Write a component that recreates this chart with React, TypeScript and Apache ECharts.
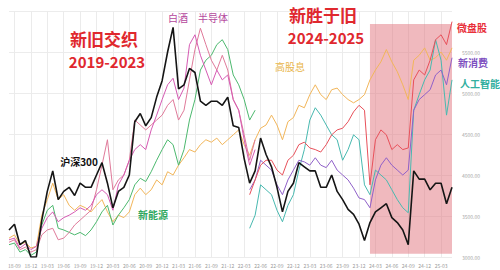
import React, { useEffect, useRef } from "react";
import * as echarts from "echarts";

const months = [
  "18-08","18-09","18-10","18-11","18-12",
  "19-01","19-02","19-03","19-04","19-05","19-06","19-07","19-08","19-09","19-10","19-11","19-12",
  "20-01","20-02","20-03","20-04","20-05","20-06","20-07","20-08","20-09","20-10","20-11","20-12",
  "21-01","21-02","21-03","21-04","21-05","21-06","21-07","21-08","21-09","21-10","21-11","21-12",
  "22-01","22-02","22-03","22-04","22-05","22-06","22-07","22-08","22-09","22-10","22-11","22-12",
  "23-01","23-02","23-03","23-04","23-05","23-06","23-07","23-08","23-09","23-10","23-11","23-12",
  "24-01","24-02","24-03","24-04","24-05","24-06","24-07","24-08","24-09","24-10","24-11","24-12",
  "25-01","25-02","25-03","25-04","25-05",
];

const hs300 = [
  3330, 3400, 3150, 3200, 3000, 3000, 3450, 3800, 4050, 3700,
  3800, 3850, 3750, 3900, 3850, 3850, 4000, 4150, 3900, 3600,
  3800, 3850, 4000, 4650, 4750, 4600, 4700, 4950, 5150, 5500,
  5800, 5050, 5100, 5300, 5250, 4900, 4850, 4900, 4900, 4850,
  4950, 4600, 4580, 4200, 3900, 4050, 4450, 4250, 4100, 3850,
  3550, 3800, 3900, 4150, 4100, 4050, 4050, 3850, 3850, 4000,
  3800, 3700, 3580, 3520, 3400, 3200, 3420, 3550, 3600, 3650,
  3480, 3420, 3330, 3150, 4050, 3950, 3950, 3820, 3900, 3900,
  3650, 3850,
];

const gaoGuXi = [
  3230, 3270, 3150, 3180, 3110, 3130, 3510, 3700, 3900, 3700,
  3760, 3630, 3570, 3630, 3600, 3550, 3630, 3700, 3550, 3430,
  3510, 3480, 3550, 3760, 3840, 3760, 3820, 3940, 3880, 4040,
  4000, 4120, 4210, 4310, 4280, 4370, 4430, 4400, 4450, 4370,
  4430, 4490, 4550, 4370, 4240, 4430, 4570, 4610, 4730, 4610,
  4430, 4650, 4700, 4850, 4820, 4980, 5100, 4980, 4920, 5040,
  5060, 4980, 4920, 4880, 4920, 4980, 5160, 5280, 5380, 5530,
  5380, 5260, 5100, 4920, 5400, 5460, 5550, 5400, 5430, 5500,
  5400, 5550,
];

const xinNengYuan = [
  3150, 3170, 3060, 3090, 3020, 3060, 3390, 3570, 3630, 3350,
  3330, 3300, 3270, 3300, 3260, 3330, 3430, 3550, 3630, 3390,
  3510, 3600, 3700, 3880, 3960, 3920, 4040, 4180, 4310, 4430,
  4370, 4120, 4310, 4670, 4920, 5280, 5400, 5460, 5590, 5650,
  5530, 5220, 5100, 4920, 4670, 4790,
];

const banDaoTi = [
  3180, 3210, 3090, 3120, 3060, 3090, 3270, 3330, 3350, 3210,
  3230, 3300, 3390, 3450, 3510, 3570, 3820, 4120, 4430, 3820,
  3940, 4000, 4180, 4670, 4610, 4550, 4610, 4670, 4730, 4850,
  4920, 4670, 4790, 5160, 5530, 5790, 5590, 5400, 5280, 5460,
  5280, 4920, 4790, 4490, 4180, 4430,
];

const baiJiu = [
  3210, 3230, 3110, 3160, 3090, 3130, 3350, 3480, 3550, 3430,
  3480, 3510, 3550, 3600, 3570, 3630, 3760, 3820, 3760, 3570,
  3880, 4000, 4180, 4310, 4370, 4310, 4550, 4730, 4920, 5100,
  5180, 4920, 5060, 5590, 5710, 5460, 5280, 5100, 5280, 5160,
  5220, 4920, 4790, 4430, 4120, 4310,
];

// new themes start at 22-04 (index 44)
const newStart = 44;
const renGongZhiNeng = [
  3350, 3510, 3880, 3820, 3760, 3570, 3430, 3630, 3760, 4060,
  4310, 4670, 4820, 4730, 4610, 4490, 4430, 4180, 4310, 4490,
  4430, 3880, 3760, 4060, 4000, 3940, 3820, 3700, 3600, 3540,
  4790, 4980, 5160, 5280, 5650, 5400, 4730, 5160,
];
const xinXiaoFei = [
  3820, 3940, 4180, 4120, 4060, 3880, 3760, 3940, 4060, 4180,
  4160, 4120, 4210, 4120, 4090, 4180, 4060, 4000, 3940, 3840,
  3720, 3700, 3600, 3940, 4120, 4210, 4120, 4060, 4000, 4060,
  4790, 4920, 4980, 5040, 5220, 5280, 5100, 5430,
];
const weiPanGu = [
  3760, 3940, 4120, 4180, 4180, 4060, 4000, 4180, 4240, 4370,
  4400, 4330, 4310, 4280, 4370, 4490, 4550, 4570, 4650, 4770,
  4850, 4790, 3880, 4430, 4550, 4490, 4310, 4370, 4310, 4330,
  5160, 5280, 5220, 5400, 5650, 5710, 5590, 5870,
];

const shadeStart = "24-02";
const shadeEnd = "25-05";
const shadeTop = 5840;
const shadeBottom = 3040;

const pad = (arr: number[]) => [...new Array(newStart).fill(null), ...arr];

const isQuarter = (_i: number, v: string) => ["03", "06", "09", "12"].includes(String(v).slice(3));

const FONT = '"Noto Sans CJK SC", "Noto Sans", sans-serif';

function txt(text: string, x: number, y: number, color: string, size: number, bold = true) {
  return {
    type: "text",
    x,
    y,
    z: 100,
    style: {
      text,
      fill: color,
      font: `${bold ? "bold " : ""}${size}px ${FONT}`,
      textAlign: "center",
      textVerticalAlign: "middle",
      align: "center",
      verticalAlign: "middle",
    },
  };
}

export default function App() {
  const ref = useRef<HTMLDivElement>(null);
  useEffect(() => {
    if (!ref.current) return;
    const chart = echarts.init(ref.current, undefined, { renderer: "svg" });
    const line = (name: string, data: any[], color: string, width = 1, z = 2) => ({
      name,
      type: "line",
      data,
      symbol: "none",
      z,
      lineStyle: { color, width },
      itemStyle: { color },
      connectNulls: false,
    });
    chart.setOption({
      animation: false,
      backgroundColor: "#ffffff",
      grid: { left: 9, right: 48, top: 11, bottom: 13, containLabel: false },
      xAxis: {
        type: "category",
        data: months,
        boundaryGap: false,
        axisLine: { show: false },
        axisTick: { show: false },
        axisLabel: { interval: isQuarter, fontSize: 5, color: "#9a9a9a", margin: 6, fontFamily: FONT },
        splitLine: { show: true, interval: isQuarter, lineStyle: { color: "#ebebeb", width: 1 } },
      },
      yAxis: {
        type: "value",
        position: "right",
        min: 3000,
        max: 6000,
        interval: 500,
        axisLine: { show: false },
        axisTick: { show: false },
        axisLabel: {
          showMaxLabel: false,
          fontSize: 5,
          color: "#a8a8a8",
          margin: 10,
          fontFamily: FONT,
          formatter: (v: number) => v.toFixed(2),
        },
        splitLine: { show: true, lineStyle: { color: "#ececec", width: 1 } },
      },
      series: [
        {
          ...line("高股息", gaoGuXi, "#f2b65a", 1, 2),
          markArea: {
            silent: true,
            itemStyle: { color: "rgba(225,115,125,0.5)" },
            data: [[{ xAxis: shadeStart, yAxis: shadeTop }, { xAxis: shadeEnd, yAxis: shadeBottom }]],
          },
        },
        line("新能源", xinNengYuan, "#4cb86e"),
        line("半导体", banDaoTi, "#e07a9a"),
        line("白酒", baiJiu, "#d65bb3"),
        line("人工智能", pad(renGongZhiNeng), "#48b9b0"),
        line("新消费", pad(xinXiaoFei), "#9061c9"),
        line("微盘股", pad(weiPanGu), "#e8505a"),
        line("沪深300", hs300, "#151515", 1.6, 3),
      ],
      graphic: [
        txt("新旧交织", 104, 38, "#e0282e", 17),
        txt("2019-2023", 107, 61, "#e0282e", 15),
        txt("新胜于旧", 323, 14, "#e0282e", 17),
        txt("2024-2025", 326, 37, "#e0282e", 15),
        txt("白酒", 178, 17, "#b4489c", 10, false),
        txt("半导体", 213, 17, "#b4489c", 10, false),
        txt("高股息", 290, 66, "#e9b548", 10, false),
        txt("沪深300", 79, 161, "#111111", 10),
        txt("新能源", 153, 214, "#2fa860", 10),
        txt("微盘股", 472, 27, "#e8303a", 10),
        txt("新消费", 473, 62, "#7d4fc0", 10),
        txt("人工智能", 480, 83, "#33b0a0", 10),
      ],
    });
    return () => chart.dispose();
  }, []);
  return (
    <div
      ref={ref}
      style={{ position: "fixed", left: 0, top: 0, width: 500, height: 270, background: "#fff" }}
    />
  );
}
